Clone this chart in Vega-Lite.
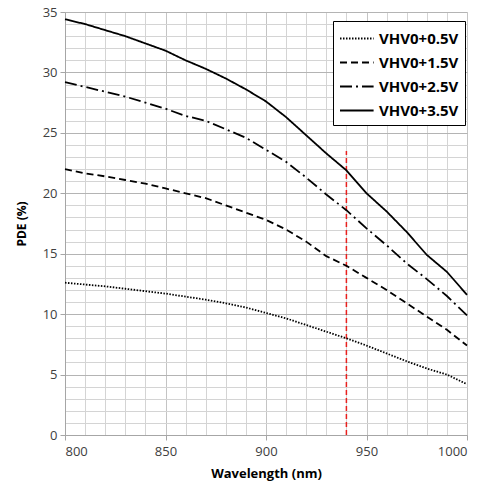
{
  "$schema": "https://vega.github.io/schema/vega-lite/v6.json",
  "width": 402,
  "height": 423,
  "autosize": {"type": "none"},
  "padding": {"left": 65, "top": 12, "right": 22, "bottom": 62},
  "background": "white",
  "datasets": {
    "pde": [
      {"wl": 800, "pde": 12.6, "series": "VHV0+0.5V"},
      {"wl": 810, "pde": 12.45, "series": "VHV0+0.5V"},
      {"wl": 820, "pde": 12.3, "series": "VHV0+0.5V"},
      {"wl": 830, "pde": 12.1, "series": "VHV0+0.5V"},
      {"wl": 840, "pde": 11.9, "series": "VHV0+0.5V"},
      {"wl": 850, "pde": 11.7, "series": "VHV0+0.5V"},
      {"wl": 860, "pde": 11.45, "series": "VHV0+0.5V"},
      {"wl": 870, "pde": 11.2, "series": "VHV0+0.5V"},
      {"wl": 880, "pde": 10.9, "series": "VHV0+0.5V"},
      {"wl": 890, "pde": 10.55, "series": "VHV0+0.5V"},
      {"wl": 900, "pde": 10.1, "series": "VHV0+0.5V"},
      {"wl": 910, "pde": 9.65, "series": "VHV0+0.5V"},
      {"wl": 920, "pde": 9.1, "series": "VHV0+0.5V"},
      {"wl": 930, "pde": 8.55, "series": "VHV0+0.5V"},
      {"wl": 940, "pde": 8.0, "series": "VHV0+0.5V"},
      {"wl": 950, "pde": 7.4, "series": "VHV0+0.5V"},
      {"wl": 960, "pde": 6.75, "series": "VHV0+0.5V"},
      {"wl": 970, "pde": 6.1, "series": "VHV0+0.5V"},
      {"wl": 980, "pde": 5.5, "series": "VHV0+0.5V"},
      {"wl": 990, "pde": 5.0, "series": "VHV0+0.5V"},
      {"wl": 1000, "pde": 4.2, "series": "VHV0+0.5V"},
      {"wl": 800, "pde": 22.0, "series": "VHV0+1.5V"},
      {"wl": 810, "pde": 21.65, "series": "VHV0+1.5V"},
      {"wl": 820, "pde": 21.4, "series": "VHV0+1.5V"},
      {"wl": 830, "pde": 21.1, "series": "VHV0+1.5V"},
      {"wl": 840, "pde": 20.8, "series": "VHV0+1.5V"},
      {"wl": 850, "pde": 20.4, "series": "VHV0+1.5V"},
      {"wl": 860, "pde": 20.0, "series": "VHV0+1.5V"},
      {"wl": 870, "pde": 19.6, "series": "VHV0+1.5V"},
      {"wl": 880, "pde": 19.0, "series": "VHV0+1.5V"},
      {"wl": 890, "pde": 18.4, "series": "VHV0+1.5V"},
      {"wl": 900, "pde": 17.8, "series": "VHV0+1.5V"},
      {"wl": 910, "pde": 17.0, "series": "VHV0+1.5V"},
      {"wl": 920, "pde": 16.0, "series": "VHV0+1.5V"},
      {"wl": 930, "pde": 14.8, "series": "VHV0+1.5V"},
      {"wl": 940, "pde": 14.0, "series": "VHV0+1.5V"},
      {"wl": 950, "pde": 13.0, "series": "VHV0+1.5V"},
      {"wl": 960, "pde": 12.0, "series": "VHV0+1.5V"},
      {"wl": 970, "pde": 10.9, "series": "VHV0+1.5V"},
      {"wl": 980, "pde": 9.8, "series": "VHV0+1.5V"},
      {"wl": 990, "pde": 8.7, "series": "VHV0+1.5V"},
      {"wl": 1000, "pde": 7.4, "series": "VHV0+1.5V"},
      {"wl": 800, "pde": 29.2, "series": "VHV0+2.5V"},
      {"wl": 810, "pde": 28.8, "series": "VHV0+2.5V"},
      {"wl": 820, "pde": 28.4, "series": "VHV0+2.5V"},
      {"wl": 830, "pde": 28.0, "series": "VHV0+2.5V"},
      {"wl": 840, "pde": 27.5, "series": "VHV0+2.5V"},
      {"wl": 850, "pde": 27.0, "series": "VHV0+2.5V"},
      {"wl": 860, "pde": 26.4, "series": "VHV0+2.5V"},
      {"wl": 870, "pde": 26.0, "series": "VHV0+2.5V"},
      {"wl": 880, "pde": 25.3, "series": "VHV0+2.5V"},
      {"wl": 890, "pde": 24.6, "series": "VHV0+2.5V"},
      {"wl": 900, "pde": 23.6, "series": "VHV0+2.5V"},
      {"wl": 910, "pde": 22.6, "series": "VHV0+2.5V"},
      {"wl": 920, "pde": 21.3, "series": "VHV0+2.5V"},
      {"wl": 930, "pde": 19.9, "series": "VHV0+2.5V"},
      {"wl": 940, "pde": 18.6, "series": "VHV0+2.5V"},
      {"wl": 950, "pde": 17.1, "series": "VHV0+2.5V"},
      {"wl": 960, "pde": 15.7, "series": "VHV0+2.5V"},
      {"wl": 970, "pde": 14.2, "series": "VHV0+2.5V"},
      {"wl": 980, "pde": 12.9, "series": "VHV0+2.5V"},
      {"wl": 990, "pde": 11.5, "series": "VHV0+2.5V"},
      {"wl": 1000, "pde": 9.9, "series": "VHV0+2.5V"},
      {"wl": 800, "pde": 34.4, "series": "VHV0+3.5V"},
      {"wl": 810, "pde": 34.0, "series": "VHV0+3.5V"},
      {"wl": 820, "pde": 33.5, "series": "VHV0+3.5V"},
      {"wl": 830, "pde": 33.0, "series": "VHV0+3.5V"},
      {"wl": 840, "pde": 32.4, "series": "VHV0+3.5V"},
      {"wl": 850, "pde": 31.8, "series": "VHV0+3.5V"},
      {"wl": 860, "pde": 31.0, "series": "VHV0+3.5V"},
      {"wl": 870, "pde": 30.3, "series": "VHV0+3.5V"},
      {"wl": 880, "pde": 29.5, "series": "VHV0+3.5V"},
      {"wl": 890, "pde": 28.6, "series": "VHV0+3.5V"},
      {"wl": 900, "pde": 27.6, "series": "VHV0+3.5V"},
      {"wl": 910, "pde": 26.3, "series": "VHV0+3.5V"},
      {"wl": 920, "pde": 24.8, "series": "VHV0+3.5V"},
      {"wl": 930, "pde": 23.3, "series": "VHV0+3.5V"},
      {"wl": 940, "pde": 21.9, "series": "VHV0+3.5V"},
      {"wl": 950, "pde": 20.0, "series": "VHV0+3.5V"},
      {"wl": 960, "pde": 18.5, "series": "VHV0+3.5V"},
      {"wl": 970, "pde": 16.8, "series": "VHV0+3.5V"},
      {"wl": 980, "pde": 14.9, "series": "VHV0+3.5V"},
      {"wl": 990, "pde": 13.5, "series": "VHV0+3.5V"},
      {"wl": 1000, "pde": 11.6, "series": "VHV0+3.5V"}
    ],
    "marker": [{"wl": 940, "lo": 0, "hi": 23.5}]
  },
  "layer": [
    {
      "data": {"name": "marker"},
      "mark": {"type": "rule", "color": "#e8201e", "strokeWidth": 1.5, "strokeDash": [5, 3]},
      "encoding": {
        "x": {
          "field": "wl", "type": "quantitative",
          "scale": {"domain": [800, 1000], "nice": false, "zero": false},
          "axis": {
            "orient": "top", "values": [810, 820, 830, 840, 860, 870, 880, 890, 910, 920, 930, 940, 960, 970, 980, 990, 1000],
            "grid": true, "gridColor": "#d4d4d4", "labels": false, "ticks": false, "domain": false, "title": null
          }
        },
        "y": {
          "field": "lo", "type": "quantitative",
          "scale": {"domain": [0, 35], "nice": false},
          "axis": {
            "orient": "right", "values": [1, 2, 3, 4, 6, 7, 8, 9, 11, 12, 13, 14, 16, 17, 18, 19, 21, 22, 23, 24, 26, 27, 28, 29, 31, 32, 33, 34],
            "grid": true, "gridColor": "#d4d4d4", "labels": false, "ticks": false, "domain": false, "title": null
          }
        },
        "y2": {"field": "hi"}
      }
    },
    {
      "data": {"name": "pde"},
      "mark": {"type": "line", "color": "black", "strokeWidth": 1.8},
      "encoding": {
        "x": {
          "field": "wl", "type": "quantitative",
          "axis": {
            "orient": "bottom", "values": [800, 850, 900, 950, 1000], "format": "d", "grid": true, "gridColor": "#c4c4c4",
            "title": "Wavelength (nm)", "titleFontWeight": "bold", "titleFontSize": 13, "titlePadding": 9, "labelPadding": 5
          }
        },
        "y": {
          "field": "pde", "type": "quantitative",
          "axis": {
            "orient": "left", "values": [0, 5, 10, 15, 20, 25, 30, 35], "grid": true, "gridColor": "#b4b4b4",
            "title": "PDE (%)", "titleFontWeight": "bold", "titleFontSize": 12, "titlePadding": 14
          }
        },
        "detail": {"field": "series"},
        "strokeDash": {
          "field": "series", "type": "nominal",
          "scale": {
            "domain": ["VHV0+0.5V", "VHV0+1.5V", "VHV0+2.5V", "VHV0+3.5V"],
            "range": [[1.5, 1.5], [7, 4], [12, 4, 2, 4], [1, 0]]
          },
          "legend": {
            "title": null, "orient": "none", "legendX": 268, "legendY": 9,
            "strokeColor": "black", "fillColor": "white", "padding": 6,
            "symbolType": "M-1,0H2.2", "symbolSize": 441, "symbolStrokeWidth": 2, "symbolStrokeColor": "black",
            "labelFont": "Open Sans", "labelFontSize": 15, "labelFontWeight": "bold", "labelColor": "black",
            "rowPadding": 4, "labelOffset": 17
          }
        }
      }
    }
  ],
  "resolve": {"axis": {"x": "independent", "y": "independent"}},
  "config": {
    "font": "Open Sans",
    "view": {"stroke": null},
    "axis": {
      "labelFontSize": 13, "labelColor": "#404040", "titleColor": "black",
      "domainColor": "#a6a6a6", "tickColor": "#a6a6a6", "tickSize": 5,
      "gridOpacity": 1, "labelPadding": 3
    }
  }
}
